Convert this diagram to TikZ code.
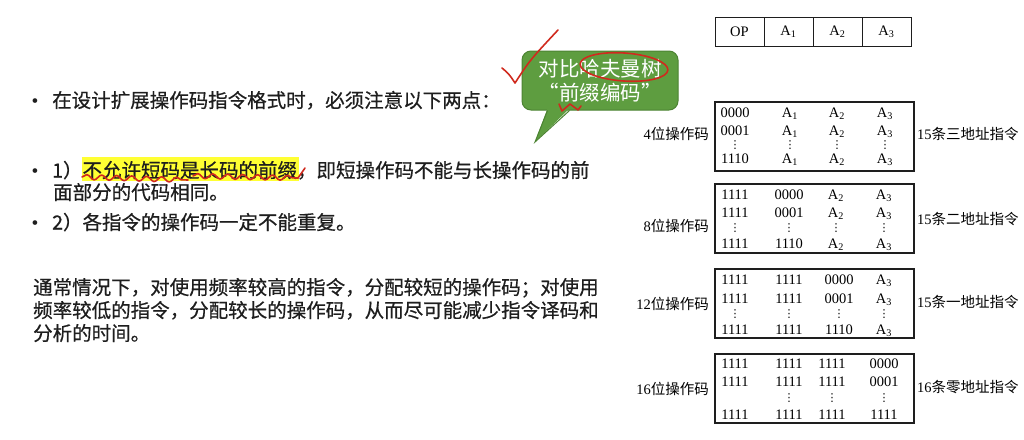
\documentclass[tikz,border=0pt]{standalone}
\usepackage{fontspec}
\setmainfont{Liberation Serif}
\newfontfamily\cjk{Noto Sans CJK SC}
\newfontfamily\cjkheavy[FakeBold=0.6]{Noto Sans CJK SC}
\newfontfamily\symb{DejaVu Sans}
\usetikzlibrary{positioning,decorations.pathmorphing}

\definecolor{bubblegreen}{HTML}{5E9D40}
\definecolor{bubbleedge}{HTML}{4C8332}
\definecolor{markred}{HTML}{D02A1E}
\definecolor{hiyellow}{HTML}{FFFF33}
\definecolor{ink}{HTML}{1E1E1E}

\tikzset{
  cell/.style={draw=ink, line width=1pt, minimum width=49pt, minimum height=29pt,
    inner sep=0pt, outer sep=0pt, font=\fontsize{14.5}{16}\selectfont},
  frame/.style={draw=ink, line width=1.2pt},
  bits/.style={inner sep=0pt, anchor=base, font=\fontsize{14.5}{16}\selectfont},
  vdot/.style={inner sep=0pt, font=\symb\fontsize{11}{12}\selectfont},
  sidelabel/.style={inner sep=0pt, font=\fontsize{14.5}{16}\selectfont},
  bodytext/.style={inner sep=0pt, anchor=base west, text=ink, font=\cjkheavy\fontsize{19.5}{23}\selectfont},
  bullet/.style={inner sep=0pt, anchor=base, text=ink, font=\fontsize{19.5}{23}\selectfont},
  bubble/.style={rounded corners=9pt, fill=bubblegreen, draw=bubbleedge, line width=1pt,
    minimum width=156pt, minimum height=59pt, text=white, align=center,
    font=\cjk\fontsize{20.5}{24}\selectfont},
  pen/.style={draw=markred, line width=1.6pt, line cap=round, line join=round},
}

\begin{document}
\begin{tikzpicture}[x=1pt,y=-1pt]
\useasboundingbox (0,0) rectangle (1024,439);

% highlight behind the first rule
\fill[hiyellow] (82,157) rectangle (299,181);

% left column text
\node[bullet] (dot1) at (35,107.5) {•};
\node[bodytext] (rule0) at (52,107.5) {在设计扩展操作码指令格式时，必须注意以下两点：};
\node[bullet] (dot2) at (35,177.5) {•};
\node[bodytext] (rule1) at (52,177.5) {1）不允许短码是长码的前缀，即短操作码不能与长操作码的前};
\node[bodytext] (rule1b) at (53,199.5) {面部分的代码相同。};
\node[bullet] (dot3) at (35,229.5) {•};
\node[bodytext] (rule2) at (52,229.5) {2）各指令的操作码一定不能重复。};
\node[bodytext] (para1) at (33,294.5) {通常情况下，对使用频率较高的指令，分配较短的操作码；对使用};
\node[bodytext] (para2) at (33,317.5) {频率较低的指令，分配较长的操作码，从而尽可能减少指令译码和};
\node[bodytext] (para3) at (33,340.5) {分析的时间。};

% speech bubble
\node[bubble] (hint) at (600,80.5) {对比哈夫曼树\\“前缀编码”};
\coordinate (tip) at (535,142);
\fill[bubblegreen] ([xshift=26pt,yshift=2pt]hint.south west) -- (tip)
    -- ([xshift=48pt,yshift=2pt]hint.south west) -- cycle;
\draw[bubbleedge, line width=1pt] ([xshift=26pt]hint.south west) -- (tip)
    -- ([xshift=48pt]hint.south west);

% instruction format
\node[cell] (op) at (739.5,31.5) {OP};
\node[cell, right=0pt of op] (a1) {A\textsubscript{1}};
\node[cell, right=0pt of a1] (a2) {A\textsubscript{2}};
\node[cell, right=0pt of a2] (a3) {A\textsubscript{3}};

% 4-bit opcodes
\draw[frame] (715,102) rectangle (914,171);
\foreach \x/\u/\v/\w [count=\i] in {735/0000/0001/1110,
    790/A\textsubscript{1}/A\textsubscript{1}/A\textsubscript{1},
    837/A\textsubscript{2}/A\textsubscript{2}/A\textsubscript{2},
    885/A\textsubscript{3}/A\textsubscript{3}/A\textsubscript{3}}
{
  \node[bits] (fourtop\i) at (\x,117) {\u};
  \node[bits] (fourmid\i) at (\x,135) {\v};
  \node[vdot] (fourdot\i) at (\x,145) {⋮};
  \node[bits] (fourbot\i) at (\x,163) {\w};
}
\node[sidelabel, anchor=east] (four) at (709,134) {4{\cjk 位操作码}};
\node[sidelabel, anchor=west] (three) at (917,134) {15{\cjk 条三地址指令}};

% 8-bit opcodes
\draw[frame] (715,184) rectangle (914,253);
\foreach \x/\u/\v/\w [count=\i] in {735/1111/1111/1111,
    789/0000/0001/1110,
    836/A\textsubscript{2}/A\textsubscript{2}/A\textsubscript{2},
    884/A\textsubscript{3}/A\textsubscript{3}/A\textsubscript{3}}
{
  \node[bits] (eighttop\i) at (\x,199) {\u};
  \node[bits] (eightmid\i) at (\x,217) {\v};
  \node[vdot] (eightdot\i) at (\x,228) {⋮};
  \node[bits] (eightbot\i) at (\x,248) {\w};
}
\node[sidelabel, anchor=east] (eight) at (709,226) {8{\cjk 位操作码}};
\node[sidelabel, anchor=west] (two) at (917,219) {15{\cjk 条二地址指令}};

% 12-bit opcodes
\draw[frame] (715,269) rectangle (914,338);
\foreach \x/\u/\v/\w [count=\i] in {735/1111/1111/1111,
    789/1111/1111/1111,
    839/0000/0001/1110,
    884/A\textsubscript{3}/A\textsubscript{3}/A\textsubscript{3}}
{
  \node[bits] (twelvetop\i) at (\x,284) {\u};
  \node[bits] (twelvemid\i) at (\x,303) {\v};
  \node[vdot] (twelvedot\i) at (\x,314) {⋮};
  \node[bits] (twelvebot\i) at (\x,334) {\w};
}
\node[sidelabel, anchor=east] (twelve) at (709,304) {12{\cjk 位操作码}};
\node[sidelabel, anchor=west] (one) at (917,302) {15{\cjk 条一地址指令}};

% 16-bit opcodes
\draw[frame] (715,354) rectangle (914,423);
\foreach \x/\u/\v/\w [count=\i] in {735/1111/1111/1111,
    789/1111/1111/1111,
    832/1111/1111/1111,
    884/0000/0001/1111}
{
  \node[bits] (sixteentop\i) at (\x,368) {\u};
  \node[bits] (sixteenmid\i) at (\x,386) {\v};
  \node[bits] (sixteenbot\i) at (\x,419) {\w};
}
\foreach \x [count=\i from 2] in {789,832,884}
  \node[vdot] (sixteendot\i) at (\x,398) {⋮};
\node[sidelabel, anchor=east] (sixteen) at (709,389) {16{\cjk 位操作码}};
\node[sidelabel, anchor=west] (zero) at (917,387) {16{\cjk 条零地址指令}};

% red pen marks
\draw[pen] (502,68) .. controls (509,74) .. (515,83) .. controls (530,60) .. (558,30);
\draw[pen, rotate around={-4:(624,67)}] (624,67) ellipse [x radius=44pt, y radius=14pt];
\draw[pen] (559,104) -- (562,111) -- (570,104) -- (578,110) -- (581,106);
\draw[pen, decorate, decoration={snake, amplitude=2.5pt, segment length=15pt}] (82,177) -- (188,180);
\draw[pen, decorate, decoration={snake, amplitude=2.5pt, segment length=15pt}] (193,176) -- (298,178);
\draw[pen] (298,178) -- (305,168);
\end{tikzpicture}
\end{document}
